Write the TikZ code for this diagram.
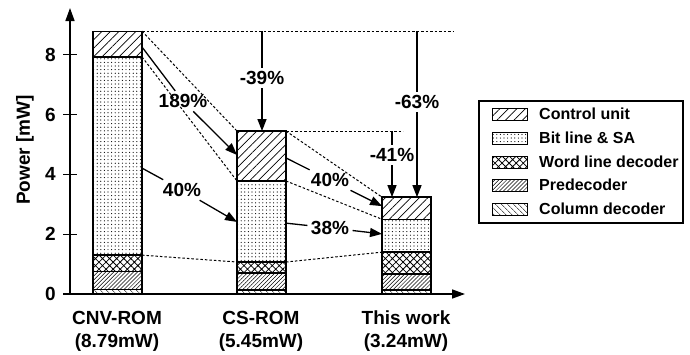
\documentclass[tikz,border=0pt]{standalone}
\usepackage{fontspec}
\setmainfont{Liberation Sans}
\usetikzlibrary{arrows.meta,patterns.meta}
\begin{document}
\begin{tikzpicture}[x=1pt,y=29.9pt,font=\bfseries\fontsize{19}{23}\selectfont,
  cu/.style={pattern={Lines[angle=45,distance=6pt,line width=.7pt]}},
  bl/.style={pattern={Dots[distance=3.6pt,radius=.6pt]}},
  wl/.style={pattern={Hatch[angle=45,distance=5pt,line width=.8pt]}},
  pd/.style={pattern={Lines[angle=45,distance=2.8pt,line width=.5pt]}},
  cd/.style={pattern={Lines[angle=-45,distance=4pt,line width=.6pt]}},
  guide/.style={dash pattern=on 2.5pt off 2pt, line width=1pt},
  arr/.style={-{Triangle[length=12pt,width=9pt]}, line width=1.3pt},
  legtxt/.style={anchor=west,inner sep=0pt,font=\bfseries\fontsize{16}{19}\selectfont}]
\useasboundingbox (0,-2.007) rectangle (690,9.833);
\draw[line width=1.5pt, -{Triangle[length=13pt,width=9pt]}] (70,0) -- (465,0);
\draw[line width=1.5pt, -{Triangle[length=13pt,width=9pt]}] (70,0) -- (70,9.565);
\foreach \v in {0,2,4,6,8} {
  \draw[line width=1.2pt] (63,\v) -- (77,\v);
  \node[anchor=east,inner sep=0pt] (tick\v) at (56,\v) {\v};
}
\node[rotate=90] (ylab) at (25,4.82) {Power [mW]};
% bars: column dec., predecoder, word line dec., bit line & SA, control unit
\foreach \xl/\a/\b/\c/\d/\e in {93/.15/.75/1.3/7.93/8.79,237/.13/.7/1.07/3.78/5.45,382/.13/.67/1.4/2.5/3.24} {
  \draw[cd,line width=1.3pt] (\xl,0) rectangle (\xl+49,\a);
  \draw[pd,line width=1.3pt] (\xl,\a) rectangle (\xl+49,\b);
  \draw[wl,line width=1.3pt] (\xl,\b) rectangle (\xl+49,\c);
  \draw[bl,line width=1.3pt] (\xl,\c) rectangle (\xl+49,\d);
  \draw[cu,line width=1.3pt] (\xl,\d) rectangle (\xl+49,\e);
}
\node[align=center] (cnv) at (117,-1.24) {CNV-ROM\\(8.79mW)};
\node[align=center] (cs) at (261,-1.24) {CS-ROM\\(5.45mW)};
\node[align=center] (tw) at (406,-1.24) {This work\\(3.24mW)};
\coordinate (cnvT) at (142,8.79);
\coordinate (cnvC) at (142,7.93);
\coordinate (cnvB) at (142,1.3);
\coordinate (csTL) at (237,5.45);
\coordinate (csCL) at (237,3.78);
\coordinate (csBL) at (237,1.07);
\coordinate (csTR) at (286,5.45);
\coordinate (csCR) at (286,3.78);
\coordinate (csBR) at (286,1.07);
\coordinate (twT) at (382,3.24);
\coordinate (twC) at (382,2.5);
\coordinate (twB) at (382,1.4);
\coordinate (topend) at (453,8.79);
\coordinate (csend) at (403,5.45);
\draw[guide] (cnvT) -- (topend);
\draw[guide] (cnvT) -- (csTL);
\draw[guide] (cnvC) -- (csCL);
\draw[guide] (cnvB) -- (csBL);
\draw[guide] (csTR) -- (csend);
\draw[guide] (csTR) -- (twT);
\draw[guide] (csCR) -- (twC);
\draw[guide] (csBR) -- (twB);
% reduction labels
\node (p189) at (183,6.45) {189\%};
\node (p40a) at (182,3.48) {40\%};
\node (p40b) at (330,3.81) {40\%};
\node (p38) at (330,2.21) {38\%};
\node (m39) at (262,7.22) {-39\%};
\node (m63) at (417,6.42) {-63\%};
\node (m41) at (392,4.65) {-41\%};
\coordinate (s189) at (142,8.26);
\coordinate (e189) at (237,4.65);
\coordinate (s40a) at (142,4.21);
\coordinate (e40a) at (237,2.41);
\coordinate (s40b) at (286,4.55);
\coordinate (e40b) at (382,2.94);
\coordinate (s38) at (286,2.37);
\coordinate (e38) at (382,2.01);
\coordinate (s39) at (262,8.79);
\coordinate (s63) at (417,8.79);
\coordinate (e63) at (417,3.24);
\coordinate (s41) at (392,5.45);
\coordinate (e41) at (392,3.24);
\draw[line width=1.3pt] (s189) -- (p189);
\draw[arr] (p189) -- (e189);
\draw[line width=1.3pt] (s40a) -- (p40a);
\draw[arr] (p40a) -- (e40a);
\draw[line width=1.3pt] (s40b) -- (p40b);
\draw[arr] (p40b) -- (e40b);
\draw[line width=1.3pt] (s38) -- (p38);
\draw[arr] (p38) -- (e38);
\draw[line width=1.3pt] (s39) -- (m39);
\draw[arr] (m39) -- (csTL -| m39);
\draw[line width=1.3pt] (s63) -- (m63);
\draw[arr] (m63) -- (e63);
\draw[line width=1.3pt] (s41) -- (m41);
\draw[arr] (m41) -- (e41);
% legend
\draw[line width=1.2pt] (479,6.455) rectangle (683,2.375);
\draw[cu] (492,5.82) rectangle (527,6.22);
\node[legtxt] (lcu) at (539,6.02) {Control unit};
\draw[bl] (492,5.017) rectangle (527,5.417);
\node[legtxt] (lbl) at (539,5.217) {Bit line \& SA};
\draw[wl] (492,4.215) rectangle (527,4.615);
\node[legtxt] (lwl) at (539,4.415) {Word line decoder};
\draw[pd] (492,3.445) rectangle (527,3.845);
\node[legtxt] (lpd) at (539,3.645) {Predecoder};
\draw[cd] (492,2.643) rectangle (527,3.043);
\node[legtxt] (lcd) at (539,2.843) {Column decoder};
\end{tikzpicture}
\end{document}
